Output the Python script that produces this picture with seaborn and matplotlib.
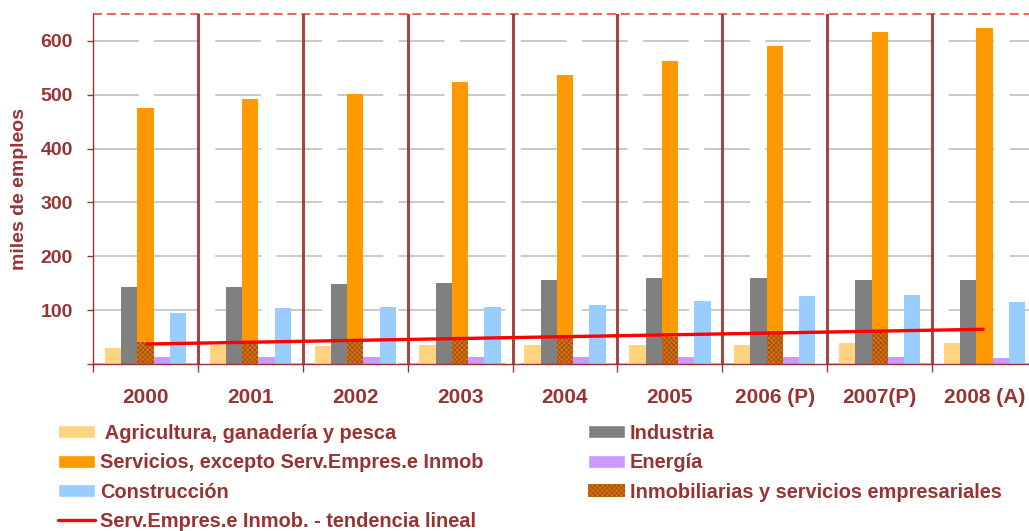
import numpy as np
import pandas as pd
import matplotlib
matplotlib.use("Agg")
import matplotlib.pyplot as plt
from matplotlib.patches import Patch
from matplotlib.lines import Line2D
import seaborn as sns

sns.set_style('white')
plt.rcParams['font.family'] = ['Liberation Sans', 'DejaVu Sans']
plt.rcParams['lines.scale_dashes'] = False
plt.rcParams['hatch.linewidth'] = 0.5

# miles de empleos por sector
years = ['2000', '2001', '2002', '2003', '2004', '2005', '2006 (P)', '2007(P)', '2008 (A)']
agricultura = [30, 35, 33, 35, 35, 35, 35, 39, 39]
industria = [143, 143, 149, 151, 156, 160, 160, 156, 156]
servicios = [476, 493, 502, 524, 537, 563, 591, 617, 624]
energia = [13, 13, 13, 13, 13, 13, 13, 13, 11]
construccion = [95, 104, 105, 106, 110, 117, 126, 128, 115]
inmobiliarias = [40, 43, 43, 46, 49, 51, 61, 59, np.nan]
trend_years = ['2000', '2008 (A)']
trend_values = [37, 64.5]

series = {
    'Agricultura': agricultura,
    'Industria': industria,
    'Servicios': servicios,
    'Energía': energia,
    'Construcción': construccion,
}
colors = ['#FFD37F', '#808080', '#FF9900', '#CC99FF', '#99CCFF']
dark_red = '#993333'
hatch_face = '#D8700E'
hatch_edge = '#9A4A14'

df = pd.DataFrame(series, index=years).reset_index(names='year')
df = df.melt(id_vars='year', var_name='serie', value_name='valor')

fig = plt.figure(figsize=(10.29, 5.31), dpi=100)
ax = fig.add_axes([93 / 1029, 167 / 531, 944 / 1029, 350 / 531])

sns.barplot(data=df, x='year', y='valor', hue='serie', order=years,
            hue_order=list(series), palette=colors, width=0.775,
            linewidth=0, saturation=1, legend=False, ax=ax)

# inmobiliarias drawn over the bottom of the servicios bar
pos = np.arange(len(years))
inm = np.array(inmobiliarias, dtype=float)
ok = ~np.isnan(inm)
ax.bar(pos[ok], inm[ok], width=0.155, facecolor=hatch_face, edgecolor=hatch_edge,
       hatch='xxxxxxx', linewidth=0, zorder=3)

ax.plot([years.index(y) for y in trend_years], trend_values, color='#FF0000',
        lw=2.4, zorder=5, solid_capstyle='butt')

ax.set_xlim(-0.5, len(years) - 0.5)
ax.set_ylim(0, 650)

# group separators
for x in np.arange(0.5, len(years) - 0.5):
    ax.axvline(x, color=dark_red, lw=2.2, alpha=0.9, zorder=4)
ax.axhline(650, color='#FF4040', lw=1.4, ls=(0, (6.5, 3.5)), alpha=0.85, clip_on=False)

ax.set_axisbelow(True)
ax.yaxis.grid(True, color='#C0C0C0', lw=1.2, linestyle=(0, (33, 11)))
ax.xaxis.grid(False)

for side in ['top', 'right']:
    ax.spines[side].set_visible(False)
for side in ['left', 'bottom']:
    ax.spines[side].set_color(dark_red)
    ax.spines[side].set_linewidth(1)

ax.set_yticks(range(0, 700, 100))
ax.set_yticklabels([''] + [str(v) for v in range(100, 700, 100)])
ax.tick_params(axis='y', left=True, length=4.5, width=1, color=dark_red, pad=10,
               labelsize=14, labelcolor=dark_red)
for lab in ax.get_yticklabels():
    lab.set_fontweight('bold')

ax.set_xticks(pos)
ax.set_xticklabels(years, fontsize=15, fontweight='bold', color=dark_red)
ax.set_xticks(np.arange(-0.5, len(years)), minor=True)
ax.tick_params(axis='x', which='major', length=0, pad=17)
ax.tick_params(axis='x', which='minor', bottom=True, length=6, width=1, color=dark_red)

ax.set_xlabel('')
ax.set_ylabel('miles de empleos', fontsize=14, fontweight='bold', color=dark_red, labelpad=9)

left_handles = [
    Patch(facecolor=colors[0], label=' Agricultura, ganadería y pesca'),
    Patch(facecolor=colors[2], label='Servicios, excepto Serv.Empres.e Inmob'),
    Patch(facecolor=colors[4], label='Construcción'),
    Line2D([], [], color='#FF0000', lw=2.4, label='Serv.Empres.e Inmob. - tendencia lineal'),
]
right_handles = [
    Patch(facecolor=colors[1], label='Industria'),
    Patch(facecolor=colors[3], label='Energía'),
    Patch(facecolor=hatch_face, edgecolor=hatch_edge, hatch='xxxxxxx', linewidth=0,
          label='Inmobiliarias y servicios empresariales'),
]
leg_kw = dict(loc='upper left', frameon=False, borderpad=0, borderaxespad=0,
              handlelength=1.85, handleheight=0.62, handletextpad=0.25,
              labelspacing=0.52, prop={'size': 14.4, 'weight': 'bold'})
leg1 = fig.legend(handles=left_handles, bbox_to_anchor=(58 / 1029, 1 - 424 / 531), **leg_kw)
leg2 = fig.legend(handles=right_handles, bbox_to_anchor=(588 / 1029, 1 - 424 / 531), **leg_kw)
for leg in (leg1, leg2):
    for t in leg.get_texts():
        t.set_color(dark_red)

fig.savefig('out.png', dpi=100)
